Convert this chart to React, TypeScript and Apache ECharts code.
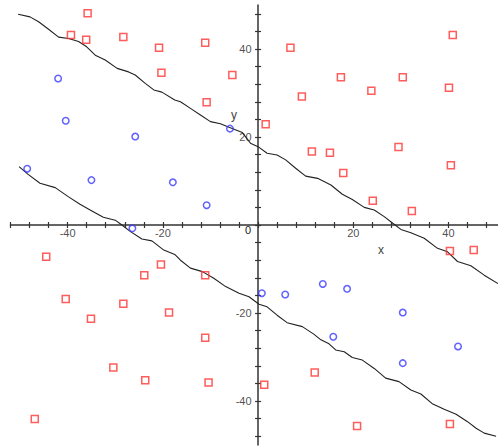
import React, { useEffect, useRef } from "react";
import * as echarts from "echarts";

const redX = [-35.8, -39.3, -36.1, -28.3, -20.8, -11.1, -20.3, -5.4, -10.8, 6.8, 40.9, 17.4, 30.4, 23.8, 40.1, 9.2, 1.6, 11.3, 15.1, 29.5, 17.9, 40.5, 24.1, 32.3, -44.5, -20.4, -23.9, -11.1, -40.4, -28.3, -18.7, -35.1, -11.1, -30.4, -23.7, -10.4, -46.9, 40.3, 45.3, 11.9, 1.3, 20.8, 40.3];
const redY = [48.1, 43.2, 42.1, 42.7, 40.3, 41.4, 34.6, 34.1, 27.9, 40.3, 43.2, 33.6, 33.6, 30.5, 31.2, 29.2, 22.9, 16.7, 16.4, 17.7, 11.8, 13.6, 5.5, 3.2, -7.2, -9.0, -11.4, -11.4, -16.8, -17.9, -19.9, -21.3, -25.6, -32.4, -35.3, -35.8, -44.1, -5.9, -5.7, -33.5, -36.3, -45.7, -45.2];

const blueX = [-42.0, -40.4, -25.8, -5.9, -48.5, -35.0, -17.9, -10.8, -26.4, 0.8, 5.7, 13.6, 18.7, 30.4, 15.8, 42.0, 30.4];
const blueY = [33.3, 23.7, 20.1, 21.9, 12.8, 10.2, 9.7, 4.5, -0.75, -15.5, -15.8, -13.4, -14.5, -19.9, -25.4, -27.6, -31.4];

const upperX = [-50.4, -47.9, -46.1, -44.0, -41.9, -39.8, -37.7, -36.0, -34.2, -32.1, -29.6, -27.2, -25.8, -23.7, -21.9, -20.2, -17.5, -16.3, -14.2, -12.1, -10.0, -7.9, -6.1, -3.3, -1.6, 0, 1.9, 4.0, 5.8, 7.9, 10.0, 12.5, 15.3, 17.7, 19.8, 22.3, 24.4, 26.5, 28.3, 30.0, 32.1, 34.9, 37.7, 39.8, 41.9, 44.7, 47.5, 50.4];
const upperY = [47.9, 47.3, 46.2, 44.5, 42.7, 42.4, 41.7, 40.5, 38.6, 37.5, 35.6, 34.8, 34.1, 32.2, 30.7, 30.2, 28.4, 28.0, 26.5, 25.0, 23.5, 23.0, 22.2, 21.0, 18.6, 17.8, 16.3, 15.9, 14.8, 12.9, 11.1, 10.6, 9.1, 7.0, 5.8, 4.0, 3.4, 1.9, 0.4, -1.0, -1.75, -3.0, -5.3, -6.1, -8.3, -9.25, -11.4, -13.3];

const lowerX = [-50.2, -48.3, -45.8, -42.6, -39.8, -37.4, -34.9, -32.5, -30.0, -28.6, -26.8, -24.4, -22.3, -19.8, -17.5, -16.3, -14.2, -11.7, -9.3, -6.8, -4.0, -1.9, 0.2, 1.9, 4.0, 6.1, 9.3, 11.7, 13.2, 14.9, 16.3, 18.1, 19.8, 21.9, 24.4, 26.8, 29.6, 32.1, 34.2, 36.7, 39.1, 41.6, 44.0, 45.8, 47.5, 50.0];
const lowerY = [13.25, 11.5, 9.5, 8.5, 6.4, 4.7, 3.2, 1.75, 1.1, 0, -1.5, -3.2, -3.6, -5.7, -6.7, -8.0, -9.8, -10.6, -12.1, -14.0, -15.5, -16.3, -18.0, -18.6, -20.5, -22.2, -23.1, -24.8, -26.1, -27.0, -28.4, -28.8, -30.1, -30.7, -32.6, -34.8, -35.6, -37.5, -38.4, -40.7, -41.9, -43.0, -44.7, -46.2, -47.3, -48.0];

const xTickValues = [-52, -48, -44, -40, -36, -32, -28, -24, -20, -16, -12, -8, -4, 0, 4, 8, 12, 16, 20, 24, 28, 32, 36, 40, 44, 48];
const yTickValues = [-48, -44, -40, -36, -32, -28, -24, -20, -16, -12, -8, -4, 0, 4, 8, 12, 16, 20, 24, 28, 32, 36, 40, 44, 48];
const xLabelValues = [-40, -20, 20, 40];
const yLabelValues = [-40, -20, 20, 40];

const X_MIN = -52;
const X_MAX = 50.4;
const Y_MIN = -50;
const Y_MAX = 50;

const FONT = "'Liberation Sans', Arial, sans-serif";
const AXIS_COLOR = "#333";
const TEXT_COLOR = "#222";

function zip(xs: number[], ys: number[]) {
  return xs.map((x, i) => [x, ys[i]]);
}

export default function App() {
  const ref = useRef<HTMLDivElement>(null);

  useEffect(() => {
    if (!ref.current) return;
    const chart = echarts.init(ref.current, undefined, { renderer: "svg" });

    const tickStyle = { color: AXIS_COLOR, width: 1.2 };
    const labelText = { color: TEXT_COLOR, fontSize: 11, fontFamily: FONT };

    const baseX = {
      type: "value",
      min: X_MIN,
      max: X_MAX,
      axisLabel: { show: false },
      splitLine: { show: false },
    };
    const baseY = {
      type: "value",
      min: Y_MIN,
      max: Y_MAX,
      axisLabel: { show: false },
      splitLine: { show: false },
    };

    chart.setOption({
      animation: false,
      backgroundColor: "#fff",
      grid: {
        left: 10.5,
        right: 0,
        top: 5,
        bottom: 1,
        containLabel: false,
        outerBoundsMode: "none",
      },
      xAxis: [
        {
          ...baseX,
          position: "bottom",
          axisLine: { show: true, onZero: true, onZeroAxisIndex: 0, lineStyle: { color: AXIS_COLOR, width: 1.5 } },
          axisTick: { show: true, inside: false, length: 3, customValues: xTickValues, lineStyle: tickStyle },
        },
        {
          ...baseX,
          position: "top",
          axisLine: { show: true, onZero: true, onZeroAxisIndex: 0, lineStyle: { color: AXIS_COLOR, width: 1.5, opacity: 0 } },
          axisTick: { show: true, inside: false, length: 3, customValues: xTickValues, lineStyle: tickStyle },
        },
      ],
      yAxis: [
        {
          ...baseY,
          position: "left",
          axisLine: { show: true, onZero: true, onZeroAxisIndex: 0, lineStyle: { color: AXIS_COLOR, width: 1.5 } },
          axisTick: { show: true, inside: false, length: 3, customValues: yTickValues, lineStyle: tickStyle },
        },
        {
          ...baseY,
          position: "right",
          axisLine: { show: true, onZero: true, onZeroAxisIndex: 0, lineStyle: { color: AXIS_COLOR, width: 1.5, opacity: 0 } },
          axisTick: { show: true, inside: false, length: 3, customValues: yTickValues, lineStyle: tickStyle },
        },
      ],
      series: [
        {
          type: "line",
          data: zip(upperX, upperY),
          showSymbol: false,
          symbol: "none",
          lineStyle: { color: "#222", width: 1.1 },
          z: 2,
          silent: true,
        },
        {
          type: "line",
          data: zip(lowerX, lowerY),
          showSymbol: false,
          symbol: "none",
          lineStyle: { color: "#222", width: 1.1 },
          z: 2,
          silent: true,
        },
        {
          type: "scatter",
          data: zip(redX, redY),
          symbol: "rect",
          symbolSize: 7,
          itemStyle: { color: "rgba(255,255,255,0)", borderColor: "#ff3333", borderWidth: 1.5 },
          z: 3,
        },
        {
          type: "scatter",
          data: zip(blueX, blueY),
          symbol: "circle",
          symbolSize: 6.5,
          itemStyle: { color: "rgba(255,255,255,0)", borderColor: "#3a3aff", borderWidth: 1.5 },
          z: 3,
        },
        {
          // x-axis tick labels placed on the zero line through the library's scale
          type: "scatter",
          data: xLabelValues.map((v) => [v, 0]),
          symbolSize: 1,
          itemStyle: { color: "rgba(0,0,0,0)", borderWidth: 0 },
          silent: true,
          z: 4,
          label: {
            show: true,
            position: "bottom",
            distance: 2,
            formatter: (p: any) => String(p.value[0]),
            ...labelText,
          },
        },
        {
          // y-axis tick labels
          type: "scatter",
          data: yLabelValues.map((v) => [0, v]),
          symbolSize: 1,
          itemStyle: { color: "rgba(0,0,0,0)", borderWidth: 0 },
          silent: true,
          z: 4,
          label: {
            show: true,
            position: "left",
            distance: 6,
            formatter: (p: any) => String(p.value[1]),
            ...labelText,
          },
        },
      ],
      graphic: [
        { type: "text", x: 248, y: 230, style: { text: "0", fill: TEXT_COLOR, font: `11px ${FONT}`, textAlign: "center", textVerticalAlign: "middle" } },
        { type: "text", x: 381, y: 250, style: { text: "x", fill: "#444", font: `12px ${FONT}`, textAlign: "center", textVerticalAlign: "middle" } },
        { type: "text", x: 234, y: 115, style: { text: "y", fill: "#444", font: `12px ${FONT}`, textAlign: "center", textVerticalAlign: "middle" } },
      ],
    });

    return () => {
      chart.dispose();
    };
  }, []);

  return (
    <div
      ref={ref}
      style={{ position: "absolute", left: 0, top: 0, width: 498, height: 446 }}
    />
  );
}
